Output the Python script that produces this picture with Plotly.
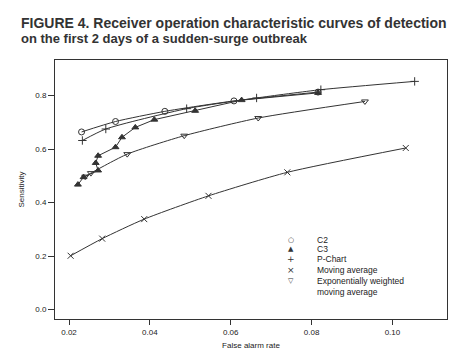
import plotly.graph_objects as go

# Data (false alarm rate, sensitivity)
c2_x = [0.0231, 0.0315, 0.0437, 0.0608, 0.0816]
c2_y = [0.664, 0.703, 0.741, 0.780, 0.813]

c3_x = [0.0222, 0.0236, 0.0272, 0.0266, 0.0272, 0.0315, 0.0331, 0.0364, 0.0411, 0.0512, 0.0627, 0.0816]
c3_y = [0.467, 0.495, 0.520, 0.548, 0.575, 0.607, 0.644, 0.681, 0.710, 0.743, 0.783, 0.810]

pc_x = [0.0233, 0.0291, 0.0491, 0.0664, 0.0823, 0.1055]
pc_y = [0.632, 0.675, 0.751, 0.791, 0.822, 0.853]

ma_x = [0.0204, 0.0282, 0.0386, 0.0545, 0.0740, 0.1033]
ma_y = [0.201, 0.265, 0.338, 0.425, 0.513, 0.604]

ew_x = [0.0240, 0.0254, 0.0344, 0.0485, 0.0668, 0.0932]
ew_y = [0.497, 0.510, 0.581, 0.650, 0.716, 0.778]

names = ["C2", "C3", "P-Chart", "Moving average", "Exponentially weighted", "moving average"]
legend_glyphs = ["○", "▲", "+", "×", "▽", ""]
xs = [c2_x, c3_x, pc_x, ma_x, ew_x]
ys = [c2_y, c3_y, pc_y, ma_y, ew_y]
symbols = ["circle-open", "triangle-up", "cross-thin-open", "x-thin-open", "triangle-down-open"]
shapes_line = ["spline", "linear", "spline", "spline", "spline"]

col = "#333333"
fig = go.Figure()
for x, y, s, sh in zip(xs, ys, symbols, shapes_line):
    fig.add_trace(go.Scatter(
        x=x, y=y, mode="lines+markers", showlegend=False,
        line=dict(color=col, width=1, shape=sh, smoothing=0.6),
        marker=dict(symbol=s, size=6, color=col, line=dict(color=col, width=1)),
    ))

FONT = "Liberation Sans, Arial, sans-serif"
W, H = 465, 363
L, R, T, B = 47, 26, 52, 52
pw, ph = W - L - R, H - T - B

def px_to_paper(xp, yp):
    return (xp - L) / pw, (H - B - yp) / ph

annotations = []
# Title (two lines)
for i, (line, fs) in enumerate([("FIGURE 4. Receiver operation characteristic curves of detection", 14),
                                ("on the first 2 days of a sudden-surge outbreak", 13)]):
    annotations.append(dict(
        text="<b>" + line + "</b>", xref="paper", yref="paper",
        x=px_to_paper(11, 0)[0], y=px_to_paper(0, 15 + 15.5 * i)[1],
        xanchor="left", yanchor="middle", showarrow=False,
        font=dict(family=FONT, size=fs, color="#333"),
    ))

# Legend (manual, compact rows as in the reference)
row_y = [231.7, 241.0, 251.0, 261.5, 272.5, 284.0]
for g, n, yp in zip(legend_glyphs, names, row_y):
    if g:
        annotations.append(dict(
            text=g, xref="paper", yref="paper",
            x=px_to_paper(283, 0)[0], y=px_to_paper(0, yp)[1],
            xanchor="center", yanchor="middle", showarrow=False,
            font=dict(family="DejaVu Sans", size=7 if g in ("▲", "○", "▽") else 9, color="#333"),
        ))
    annotations.append(dict(
        text=n, xref="paper", yref="paper",
        x=px_to_paper(307, 0)[0], y=px_to_paper(0, yp)[1],
        xanchor="left", yanchor="middle", showarrow=False,
        font=dict(family=FONT, size=8.5, color="#222"),
    ))

fig.update_layout(
    width=W, height=H,
    margin=dict(l=L, r=R, t=T, b=B),
    paper_bgcolor="white", plot_bgcolor="white",
    font=dict(family=FONT, color="#222", size=8),
    showlegend=False,
    annotations=annotations,
    xaxis=dict(
        range=[0.01653, 0.1135], tickvals=[0.02, 0.04, 0.06, 0.08, 0.10],
        ticktext=["0.02", "0.04", "0.06", "0.08", "0.10"],
        showgrid=False, zeroline=False, showline=True, mirror=True,
        linecolor=col, linewidth=1, ticks="outside", ticklen=5, tickcolor=col,
        title=dict(text="False alarm rate", font=dict(size=8), standoff=6),
        tickfont=dict(size=8),
    ),
    yaxis=dict(
        range=[-0.0355, 0.933], tickvals=[0.0, 0.2, 0.4, 0.6, 0.8],
        ticktext=["0.0", "0.2", "0.4", "0.6", "0.8"],
        showgrid=False, zeroline=False, showline=True, mirror=True,
        linecolor=col, linewidth=1, ticks="outside", ticklen=6, tickcolor=col,
        title=dict(text="Sensitivity", font=dict(size=8), standoff=9),
        tickfont=dict(size=8),
    ),
)

fig.write_html("out.html")
